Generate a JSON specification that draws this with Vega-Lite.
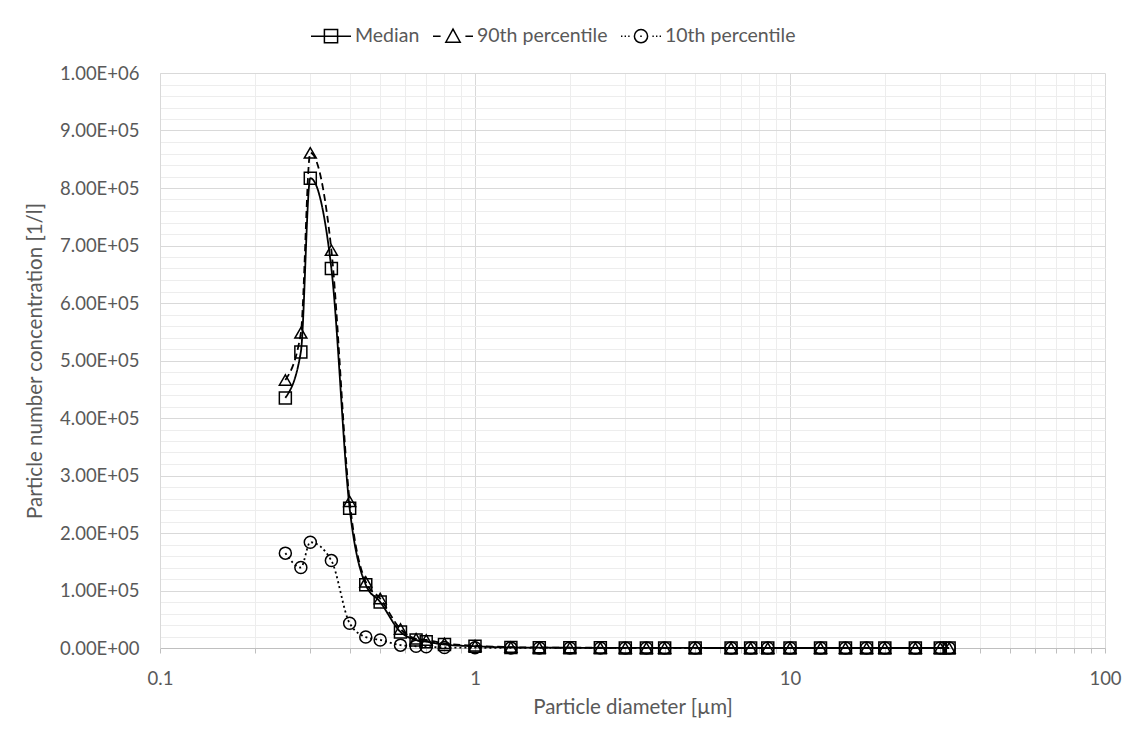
{
  "$schema": "https://vega.github.io/schema/vega-lite/v6.json",
  "width": 945,
  "height": 575,
  "autosize": {"type": "none"},
  "padding": {"left": 160, "top": 73, "right": 33, "bottom": 85},
  "background": "white",
  "config": {
    "view": {"stroke": null},
    "font": "Lato",
    "axis": {
      "labelFont": "Lato",
      "titleFont": "Lato",
      "labelFontSize": 18.5,
      "titleFontSize": 20.5,
      "labelColor": "#595959",
      "titleColor": "#595959",
      "titleFontWeight": "normal",
      "gridWidth": 1
    }
  },
  "data": {
    "values": [
      {"d": 0.25, "series": "Median", "v": 435000},
      {"d": 0.28, "series": "Median", "v": 515000},
      {"d": 0.3, "series": "Median", "v": 817000},
      {"d": 0.35, "series": "Median", "v": 660000},
      {"d": 0.4, "series": "Median", "v": 243000},
      {"d": 0.45, "series": "Median", "v": 110000},
      {"d": 0.5, "series": "Median", "v": 80000},
      {"d": 0.58, "series": "Median", "v": 28000},
      {"d": 0.65, "series": "Median", "v": 14000},
      {"d": 0.7, "series": "Median", "v": 11000},
      {"d": 0.8, "series": "Median", "v": 6000},
      {"d": 1.0, "series": "Median", "v": 3000},
      {"d": 1.3, "series": "Median", "v": 1000},
      {"d": 1.6, "series": "Median", "v": 600},
      {"d": 2.0, "series": "Median", "v": 400},
      {"d": 2.5, "series": "Median", "v": 250},
      {"d": 3.0, "series": "Median", "v": 150},
      {"d": 3.5, "series": "Median", "v": 100},
      {"d": 4.0, "series": "Median", "v": 80},
      {"d": 5.0, "series": "Median", "v": 50},
      {"d": 6.5, "series": "Median", "v": 30},
      {"d": 7.5, "series": "Median", "v": 20},
      {"d": 8.5, "series": "Median", "v": 15},
      {"d": 10, "series": "Median", "v": 10},
      {"d": 12.5, "series": "Median", "v": 8},
      {"d": 15, "series": "Median", "v": 5},
      {"d": 17.5, "series": "Median", "v": 4},
      {"d": 20, "series": "Median", "v": 3},
      {"d": 25, "series": "Median", "v": 2},
      {"d": 30, "series": "Median", "v": 1},
      {"d": 32, "series": "Median", "v": 1},
      {"d": 0.25, "series": "90th percentile", "v": 466000},
      {"d": 0.28, "series": "90th percentile", "v": 548000},
      {"d": 0.3, "series": "90th percentile", "v": 861000},
      {"d": 0.35, "series": "90th percentile", "v": 692000},
      {"d": 0.4, "series": "90th percentile", "v": 255000},
      {"d": 0.45, "series": "90th percentile", "v": 115000},
      {"d": 0.5, "series": "90th percentile", "v": 86000},
      {"d": 0.58, "series": "90th percentile", "v": 33000},
      {"d": 0.65, "series": "90th percentile", "v": 16000},
      {"d": 0.7, "series": "90th percentile", "v": 14000},
      {"d": 0.8, "series": "90th percentile", "v": 8000},
      {"d": 1.0, "series": "90th percentile", "v": 4000},
      {"d": 1.3, "series": "90th percentile", "v": 1500},
      {"d": 1.6, "series": "90th percentile", "v": 900},
      {"d": 2.0, "series": "90th percentile", "v": 600},
      {"d": 2.5, "series": "90th percentile", "v": 400},
      {"d": 3.0, "series": "90th percentile", "v": 250},
      {"d": 3.5, "series": "90th percentile", "v": 150},
      {"d": 4.0, "series": "90th percentile", "v": 120},
      {"d": 5.0, "series": "90th percentile", "v": 80},
      {"d": 6.5, "series": "90th percentile", "v": 50},
      {"d": 7.5, "series": "90th percentile", "v": 35},
      {"d": 8.5, "series": "90th percentile", "v": 25},
      {"d": 10, "series": "90th percentile", "v": 18},
      {"d": 12.5, "series": "90th percentile", "v": 12},
      {"d": 15, "series": "90th percentile", "v": 8},
      {"d": 17.5, "series": "90th percentile", "v": 6},
      {"d": 20, "series": "90th percentile", "v": 5},
      {"d": 25, "series": "90th percentile", "v": 3},
      {"d": 30, "series": "90th percentile", "v": 2},
      {"d": 32, "series": "90th percentile", "v": 2},
      {"d": 0.25, "series": "10th percentile", "v": 165000},
      {"d": 0.28, "series": "10th percentile", "v": 140000},
      {"d": 0.3, "series": "10th percentile", "v": 184000},
      {"d": 0.35, "series": "10th percentile", "v": 152000},
      {"d": 0.4, "series": "10th percentile", "v": 43000},
      {"d": 0.45, "series": "10th percentile", "v": 19000},
      {"d": 0.5, "series": "10th percentile", "v": 14000},
      {"d": 0.58, "series": "10th percentile", "v": 5000},
      {"d": 0.65, "series": "10th percentile", "v": 3000},
      {"d": 0.7, "series": "10th percentile", "v": 2000},
      {"d": 0.8, "series": "10th percentile", "v": 1000},
      {"d": 1.0, "series": "10th percentile", "v": 500},
      {"d": 1.3, "series": "10th percentile", "v": 200},
      {"d": 1.6, "series": "10th percentile", "v": 100},
      {"d": 2.0, "series": "10th percentile", "v": 60},
      {"d": 2.5, "series": "10th percentile", "v": 40},
      {"d": 3.0, "series": "10th percentile", "v": 25},
      {"d": 3.5, "series": "10th percentile", "v": 15},
      {"d": 4.0, "series": "10th percentile", "v": 10},
      {"d": 5.0, "series": "10th percentile", "v": 6},
      {"d": 6.5, "series": "10th percentile", "v": 4},
      {"d": 7.5, "series": "10th percentile", "v": 3},
      {"d": 8.5, "series": "10th percentile", "v": 2},
      {"d": 10, "series": "10th percentile", "v": 1},
      {"d": 12.5, "series": "10th percentile", "v": 1},
      {"d": 15, "series": "10th percentile", "v": 1},
      {"d": 17.5, "series": "10th percentile", "v": 0},
      {"d": 20, "series": "10th percentile", "v": 0},
      {"d": 25, "series": "10th percentile", "v": 0},
      {"d": 30, "series": "10th percentile", "v": 0},
      {"d": 32, "series": "10th percentile", "v": 0}
    ]
  },
  "encoding": {
    "x": {
      "field": "d",
      "type": "quantitative",
      "scale": {"type": "log", "domain": [0.1, 100]},
      "axis": {
        "title": "Particle diameter [µm]",
        "values": [0.1, 0.2, 0.3, 0.4, 0.5, 0.6, 0.7, 0.8, 0.9, 1, 2, 3, 4, 5, 6, 7, 8, 9, 10, 20, 30, 40, 50, 60, 70, 80, 90, 100],
        "labelExpr": "(datum.value == 0.1 || datum.value == 1 || datum.value == 10 || datum.value == 100) ? format(datum.value, '~g') : ''",
        "grid": true,
        "gridColor": {"condition": {"test": "datum.value == 0.1 || datum.value == 1 || datum.value == 10 || datum.value == 100", "value": "#d9d9d9"}, "value": "#ededed"},
        "tickColor": "#bfbfbf",
        "tickSize": 5,
        "domainColor": "#bfbfbf",
        "labelPadding": 16,
        "labelFlush": false,
        "labelOverlap": false,
        "titlePadding": 10
      }
    },
    "y": {
      "field": "v",
      "type": "quantitative",
      "scale": {"domain": [0, 1000000], "nice": false},
      "axis": {
        "title": "Particle number concentration [1/l]",
        "values": [0, 20000, 40000, 60000, 80000, 100000, 120000, 140000, 160000, 180000, 200000, 220000, 240000, 260000, 280000, 300000, 320000, 340000, 360000, 380000, 400000, 420000, 440000, 460000, 480000, 500000, 520000, 540000, 560000, 580000, 600000, 620000, 640000, 660000, 680000, 700000, 720000, 740000, 760000, 780000, 800000, 820000, 840000, 860000, 880000, 900000, 920000, 940000, 960000, 980000, 1000000],
        "labelExpr": "datum.value % 100000 == 0 ? replace(format(datum.value, '.2e'), regexp('e[+]([0-9])$'), 'E+0$1') : ''",
        "grid": true,
        "gridColor": {"condition": {"test": "datum.value % 100000 == 0", "value": "#d9d9d9"}, "value": "#ededed"},
        "ticks": false,
        "domainColor": "#d9d9d9",
        "labelPadding": 21,
        "labelOverlap": false,
        "titlePadding": 14
      }
    }
  },
  "layer": [
    {
      "mark": {"type": "line", "interpolate": "monotone", "color": "black", "strokeWidth": 1.8},
      "encoding": {
        "detail": {"field": "series", "type": "nominal"},
        "strokeDash": {
          "field": "series",
          "type": "nominal",
          "scale": {"domain": ["90th percentile", "Median", "10th percentile"], "range": [[7, 4], [1, 0], [2, 3]]},
          "legend": null
        }
      }
    },
    {
      "mark": {"type": "point", "filled": false, "strokeWidth": 1.5, "size": 144, "opacity": 1},
      "encoding": {
        "shape": {
          "field": "series",
          "type": "nominal",
          "scale": {"domain": ["10th percentile", "90th percentile", "Median"], "range": ["circle", "triangle-up", "square"]},
          "legend": null
        },
        "color": {
          "field": "series",
          "type": "nominal",
          "scale": {"domain": ["Median", "90th percentile", "10th percentile"], "range": ["black", "black", "black"]},
          "legend": {
            "title": null,
            "orient": "none",
            "legendX": 150,
            "legendY": -58,
            "direction": "horizontal",
            "padding": 0,
            "symbolSize": 1600,
            "symbolStrokeWidth": 1.5,
            "symbolFillColor": "transparent",
            "symbolType": {"expr": "datum.value === 'Median' ? 'M-1,0H1M-0.33,-0.33H0.33V0.33H-0.33Z' : datum.value === '90th percentile' ? 'M-1,0H-0.62M0.62,0H1M-0.36,0.3L0,-0.36L0.36,0.3Z' : 'M-1,0H-0.93M-0.82,0H-0.75M-0.64,0H-0.57M0.57,0H0.64M0.75,0H0.82M0.93,0H1M0.33,0A0.33,0.33,0,1,1,-0.33,0A0.33,0.33,0,1,1,0.33,0M-0.04,0H0.04'"},
            "labelFont": "Lato",
            "labelFontSize": 19.5,
            "labelColor": "#595959",
            "labelOffset": 3,
            "columnPadding": 10
          }
        }
      }
    }
  ]
}
